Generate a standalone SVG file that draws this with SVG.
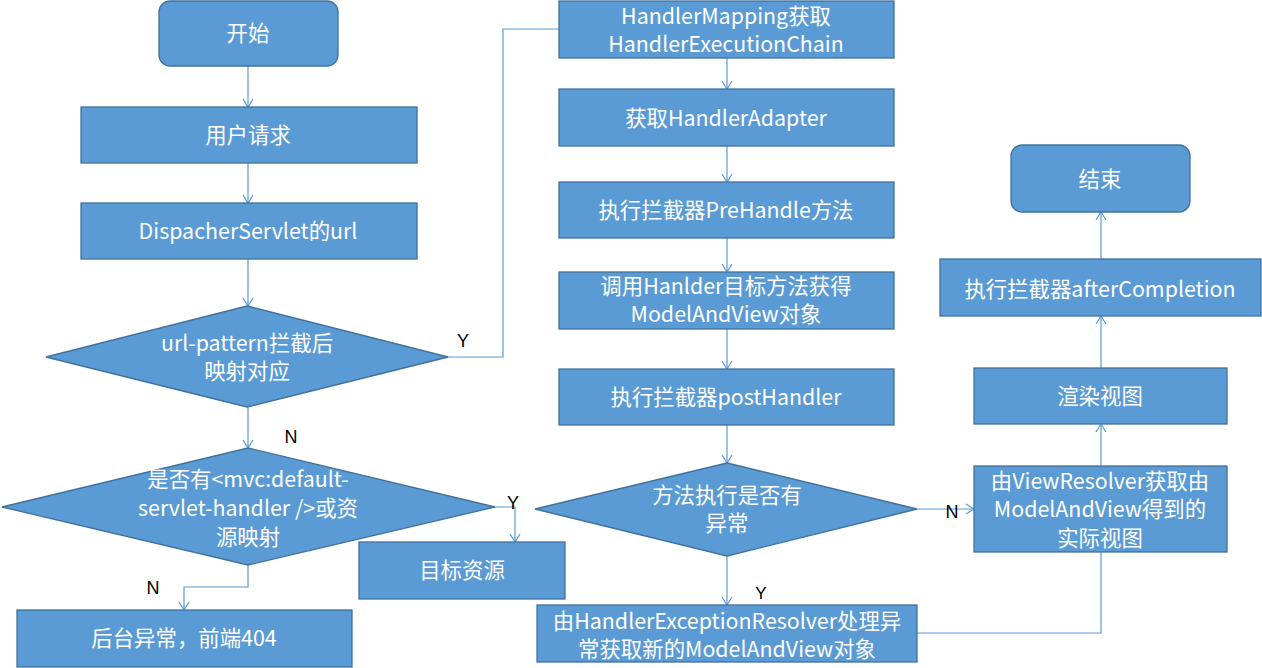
<svg xmlns="http://www.w3.org/2000/svg" width="1262" height="668" viewBox="0 0 1262 668">
<defs>
<marker id="arr" markerUnits="userSpaceOnUse" markerWidth="12" markerHeight="12" refX="9" refY="6" orient="auto">
<path d="M1,1 L9,6 L1,11" fill="none" stroke="#5B9BD5" stroke-width="1.2"/>
</marker>
</defs>
<style>
.box{fill:#5B9BD5;stroke:#41719C;stroke-width:1.3}
.t{fill:#FFFFFF;font-family:"Noto Sans CJK SC","Noto Sans",sans-serif;font-size:21.4px;text-anchor:middle;dominant-baseline:central}
.lbl{fill:#000000;font-family:"Liberation Sans",Arial,sans-serif;font-size:18px;text-anchor:middle;dominant-baseline:central}
.c{fill:none;stroke:#5B9BD5;stroke-width:1.2}
</style>
<rect width="1262" height="668" fill="#FFFFFF"/>
<g id="connectors">
<path class="c" d="M248,66 V107" marker-end="url(#arr)"/>
<path class="c" d="M248,163 V203" marker-end="url(#arr)"/>
<path class="c" d="M248,259 V306" marker-end="url(#arr)"/>
<path class="c" d="M248,407 V448" marker-end="url(#arr)"/>
<path class="c" d="M448,357 H503 V29 H559"/>
<path class="c" d="M495,507 H515 V542" marker-end="url(#arr)"/>
<path class="c" d="M248,565 V587 H184 V610" marker-end="url(#arr)"/>
<path class="c" d="M727,58 V89" marker-end="url(#arr)"/>
<path class="c" d="M727,146 V182" marker-end="url(#arr)"/>
<path class="c" d="M727,238 V272" marker-end="url(#arr)"/>
<path class="c" d="M727,329 V369" marker-end="url(#arr)"/>
<path class="c" d="M727,425 V463" marker-end="url(#arr)"/>
<path class="c" d="M917,509 H974" marker-end="url(#arr)"/>
<path class="c" d="M727,556 V605" marker-end="url(#arr)"/>
<path class="c" d="M917,633 H1101 V552"/>
<path class="c" d="M1101,466 V424" marker-end="url(#arr)"/>
<path class="c" d="M1101,368 V316" marker-end="url(#arr)"/>
<path class="c" d="M1101,259 V212" marker-end="url(#arr)"/>
<text class="lbl" x="463" y="341">Y</text>
<text class="lbl" x="291" y="437">N</text>
<text class="lbl" x="513" y="503">Y</text>
<text class="lbl" x="153" y="588">N</text>
<text class="lbl" x="761" y="593" style="font-size:17px">Y</text>
<text class="lbl" x="952" y="512">N</text>
</g>
<g id="start"><rect class="box" x="159" y="1" width="179" height="65" rx="11"/><text class="t" x="248" y="31">开始</text></g>
<g id="user-request"><rect class="box" x="81" y="107" width="336" height="56"/><text class="t" x="248" y="133">用户请求</text></g>
<g id="dispatcher-url"><rect class="box" x="81" y="203" width="336" height="56"/><text class="t" x="248" y="229">DispacherServlet的url</text></g>
<g id="url-pattern"><polygon class="box" points="247,306 448,357 247,407 46,357"/><text class="t" x="247" y="341">url-pattern拦截后</text><text class="t" x="247" y="369">映射对应</text></g>
<g id="default-servlet"><polygon class="box" points="248,448 495,507 248,565 2,507"/><text class="t" x="248" y="477">是否有&lt;mvc:default-</text><text class="t" x="248" y="506">servlet-handler /&gt;或资</text><text class="t" x="248" y="535">源映射</text></g>
<g id="target-resource"><rect class="box" x="359" y="542" width="206" height="57"/><text class="t" x="462" y="568">目标资源</text></g>
<g id="error-404"><rect class="box" x="17" y="610" width="335" height="57"/><text class="t" x="184" y="636">后台异常，前端404</text></g>
<g id="handler-mapping"><rect class="box" x="559" y="1" width="335" height="57"/><text class="t" x="726" y="14">HandlerMapping获取</text><text class="t" x="726" y="42">HandlerExecutionChain</text></g>
<g id="handler-adapter"><rect class="box" x="559" y="89" width="335" height="57"/><text class="t" x="726" y="116">获取HandlerAdapter</text></g>
<g id="prehandle"><rect class="box" x="559" y="182" width="335" height="56"/><text class="t" x="726" y="208">执行拦截器PreHandle方法</text></g>
<g id="invoke-handler"><rect class="box" x="559" y="272" width="335" height="57"/><text class="t" x="726" y="284">调用Hanlder目标方法获得</text><text class="t" x="726" y="312">ModelAndView对象</text></g>
<g id="posthandler"><rect class="box" x="559" y="369" width="335" height="56"/><text class="t" x="726" y="395">执行拦截器postHandler</text></g>
<g id="has-exception"><polygon class="box" points="727,463 917,509 727,556 535,509"/><text class="t" x="727" y="493">方法执行是否有</text><text class="t" x="727" y="521">异常</text></g>
<g id="exception-resolver"><rect class="box" x="537" y="605" width="380" height="57"/><text class="t" x="727" y="619">由HandlerExceptionResolver处理异</text><text class="t" x="727" y="647">常获取新的ModelAndView对象</text></g>
<g id="view-resolver"><rect class="box" x="974" y="466" width="253" height="86"/><text class="t" x="1100" y="479">由ViewResolver获取由</text><text class="t" x="1100" y="507">ModelAndView得到的</text><text class="t" x="1100" y="536">实际视图</text></g>
<g id="render-view"><rect class="box" x="974" y="368" width="253" height="56"/><text class="t" x="1100" y="394">渲染视图</text></g>
<g id="after-completion"><rect class="box" x="940" y="259" width="321" height="57"/><text class="t" x="1100" y="287">执行拦截器afterCompletion</text></g>
<g id="end"><rect class="box" x="1011" y="145" width="179" height="67" rx="11"/><text class="t" x="1100" y="177">结束</text></g>
</svg>
